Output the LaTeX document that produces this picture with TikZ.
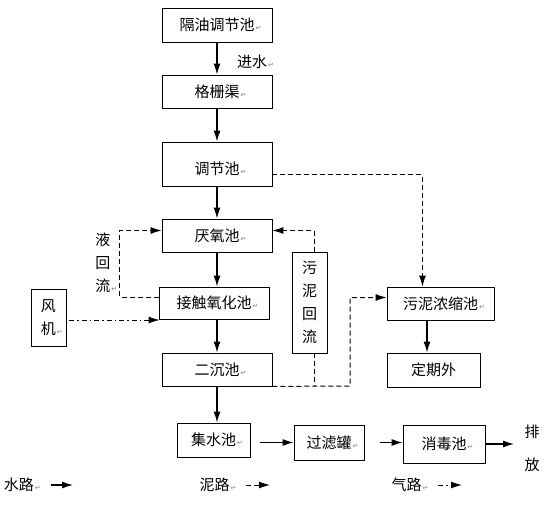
\documentclass[tikz,border=0pt]{standalone}
\usepackage{fontspec}
\setmainfont{Noto Sans CJK SC}
\newfontfamily\dejavu{DejaVu Sans}
\usetikzlibrary{calc}
\usetikzlibrary{arrows.meta}

\newcommand{\retmark}{\rlap{\kern1pt\dejavu\fontsize{7}{7}\selectfont\textcolor{gray}{↵}}}

\begin{document}
\begin{tikzpicture}[x=1pt,y=-1pt,font=\fontsize{15}{23}\selectfont]
		\useasboundingbox (0,0) rectangle (550,519);
		
		\tikzset{BoxStyle/.style = {draw, shape = rectangle, line width = 0.8pt, inner sep = 0pt, align = center}}
		
		\node[BoxStyle, minimum width=110pt, minimum height=34pt] (geyou) at (217,25) {隔油调节池\retmark};
		\node[BoxStyle, minimum width=110pt, minimum height=33pt] (gezha) at (217,91.5) {格栅渠\retmark};
		\node[BoxStyle, minimum width=110pt, minimum height=44pt] (tiaojie) at (217,164) {\mbox{}\\调节池\retmark};
		\node[BoxStyle, minimum width=110pt, minimum height=33pt] (yanyang) at (217,235.5) {厌氧池\retmark};
		\node[BoxStyle, minimum width=110pt, minimum height=32pt] (jiechu) at (214,303) {接触氧化池\retmark};
		\node[BoxStyle, minimum width=110pt, minimum height=33pt] (erchen) at (217,369.5) {二沉池\retmark};
		
		\node[BoxStyle, minimum width=35pt, minimum height=57pt] (fengji) at (48.5,317.5) {风\\机\retmark};
		\node[BoxStyle, minimum width=35pt, minimum height=101pt] (huiliu) at (309.5,302.5) {污\\泥\\回\\流};
		\node[BoxStyle, minimum width=107pt, minimum height=33pt] (nongsuo) at (440.5,303.5) {污泥浓缩池\retmark};
		\node[BoxStyle, minimum width=93pt, minimum height=34pt] (waiyun) at (433.5,370) {定期外};
		
		\node[BoxStyle, minimum width=73pt, minimum height=34pt] (jishui) at (213.5,440) {集水池\retmark};
		\node[BoxStyle, minimum width=70pt, minimum height=35pt] (guolv) at (329,442.5) {过滤罐\retmark};
		\node[BoxStyle, minimum width=82pt, minimum height=38pt] (xiaodu) at (444,444) {消毒池\retmark};
		
		% free texts
		\node (jinshui) at (252,62) {进水\retmark};
		\node[align=center] (yehuiliu) at (103,263) {液\\回\\流\retmark};
		\node[align=center, font=\fontsize{15}{33}\selectfont] (paifang) at (532,448.5) {排\\放};
		\node (shuilu) at (19,485) {水路\retmark};
		\node (nilu) at (214.5,485) {泥路\retmark};
		\node (qilu) at (406.5,485) {气路\retmark};
		
		\tikzset{>={Latex[length=11pt,width=7pt]}} % Set the arrowhead type!
		\tikzset{WaterStyle/.style = {->, line width = 1.3pt}}
		\tikzset{SludgeLine/.style = {line width = 1pt, dash pattern = on 5pt off 3pt}}
		\tikzset{SludgeStyle/.style = {->, SludgeLine}}
		\tikzset{AirStyle/.style = {->, line width = 1pt, dash pattern = on 5pt off 3pt on 1.5pt off 3pt}}
		
		% water
		\draw[WaterStyle] (geyou) -- (gezha);
		\draw[WaterStyle] (gezha) -- (tiaojie);
		\draw[WaterStyle] (tiaojie) -- (yanyang);
		\draw[WaterStyle] (yanyang.south) -- (yanyang.south |- jiechu.north);
		\draw[WaterStyle] (erchen.north |- jiechu.south) -- (erchen.north);
		\draw[WaterStyle] (erchen.south) -- (erchen.south |- jishui.north);
		\draw[WaterStyle] ($(jishui.east |- guolv.west)+(10,0)$) -- (guolv.west);
		\draw[WaterStyle] ($(guolv.east)+(16,0)$) -- (guolv.east -| xiaodu.west);
		\coordinate (outlet) at (514,444);
		\draw[WaterStyle] (xiaodu.east) -- (outlet);
		\draw[WaterStyle] (nongsuo.south -| waiyun.north) ++(-6.5,0) coordinate (n1) -- (n1 |- waiyun.north);
		
		% sludge
		\draw[SludgeStyle] ($(tiaojie.east)+(0,11)$) -| ($(nongsuo.north)+(-18,0)$);
		\draw[SludgeStyle] ($(huiliu.north)+(4.5,0)$) |- ($(yanyang.east)+(0,-5)$);
		\coordinate (h1) at ($(huiliu.south)+(4.5,0)$);
		\draw[SludgeLine] (h1) -- (h1 |- erchen.south);
		\coordinate (s1) at (350,386);
		\draw[SludgeStyle] (erchen.south east) -- (s1) |- ($(nongsuo.west)+(0,-6)$);
		\draw[SludgeStyle] ($(jiechu.west)+(0,-6)$) -- ++(-39,0) |- ($(yanyang.west)+(0,-5)$);
		
		% air
		\draw[AirStyle] ($(fengji.east)+(3,2.5)$) -- ($(jiechu.west)+(1,17)$);
		
		% legend
		\coordinate (shuiluend) at (73,485);
		\coordinate (niluend) at (270,485);
		\coordinate (qiluend) at (462,485);
		\draw[WaterStyle] ($(shuilu.east)+(13,0)$) -- (shuiluend);
		\draw[SludgeStyle] ($(nilu.east)+(13,0)$) -- (niluend);
		\draw[AirStyle] ($(qilu.east)+(13,0)$) -- (qiluend);
\end{tikzpicture}
\end{document}
